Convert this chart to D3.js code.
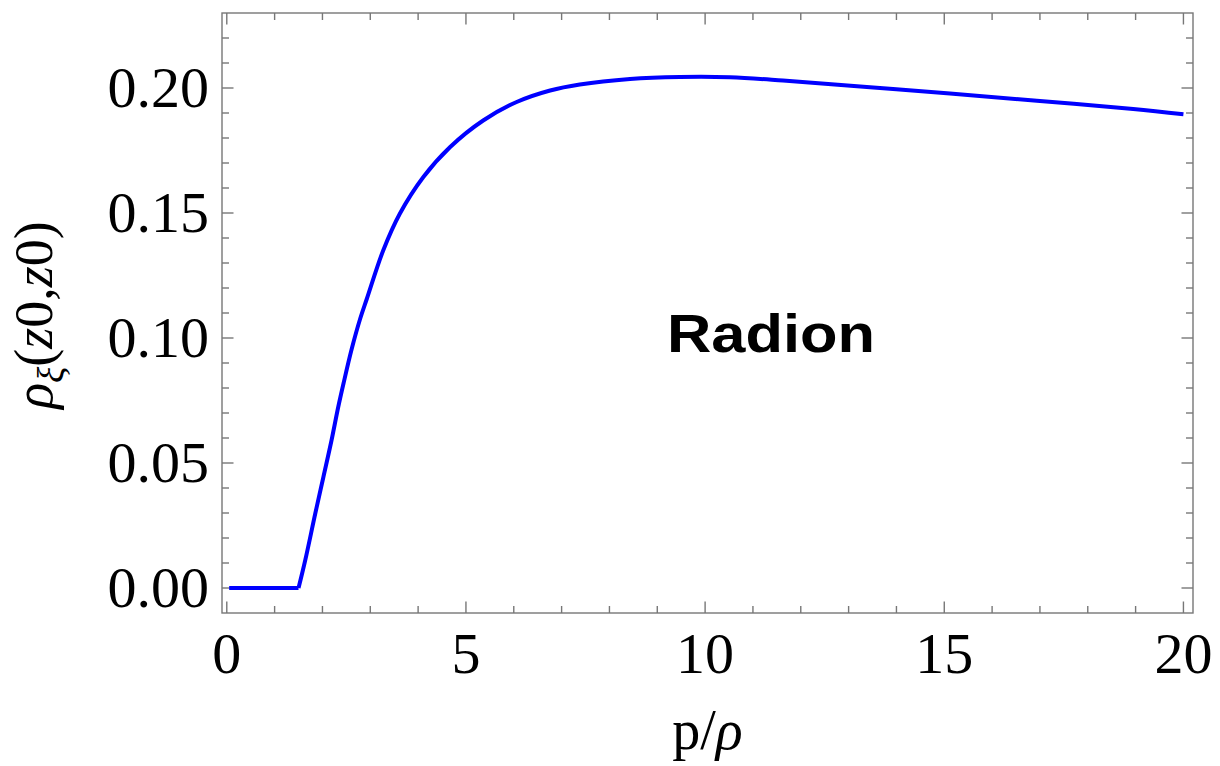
<!DOCTYPE html>
<html>
<head>
<meta charset="utf-8">
<script src="https://cdn.jsdelivr.net/npm/d3@7/dist/d3.min.js"></script>
<style>
  html, body { margin: 0; padding: 0; background: #fff; }
  svg { display: block; }
</style>
</head>
<body>
<svg id="chart" width="1220" height="766"></svg>
<script>
// ---- data ----
const xValues = [0.05, 1.5, 1.64, 1.85, 2.02, 2.19, 2.33, 2.44, 2.61, 2.79, 2.93, 3.27, 3.62, 4.11, 4.67, 5.36, 6.06, 6.76, 7.38, 8.43, 9.47, 10.52, 11.63, 13.38, 15.12, 17.0, 18.95, 20.0];
const yValues = [0, 0, 0.0111, 0.0298, 0.0444, 0.0591, 0.0724, 0.0818, 0.0955, 0.1078, 0.1158, 0.135, 0.1498, 0.1644, 0.1764, 0.187, 0.1944, 0.1990, 0.2014, 0.2036, 0.2044, 0.2043, 0.2030, 0.2004, 0.1978, 0.1948, 0.1916, 0.1895];
const xTickLabels = [0, 5, 10, 15, 20];
const yTickLabels = [0.00, 0.05, 0.10, 0.15, 0.20];
const xMinorTicks = d3.range(0, 21, 1);
const yMinorTicks = d3.range(0, 23, 1).map(d => d / 100);
const annotation = "Radion";

// ---- layout ----
const L = 222, R = 1193, T = 13, B = 613;
const svg = d3.select("#chart");
const x = d3.scaleLinear().domain([-0.1, 20.2]).range([L, R]);
const y = d3.scaleLinear().domain([-0.01, 0.23]).range([B, T]);

const frameColor = "#777777";
const major = 11.5, minor = 7;
const serif = "'Liberation Serif', 'Times New Roman', serif";

// frame
svg.append("rect")
  .attr("x", L).attr("y", T).attr("width", R - L).attr("height", B - T)
  .attr("fill", "none").attr("stroke", frameColor).attr("stroke-width", 1.4);

const isMajorX = d => Math.abs(d % 5) < 1e-9;
const isMajorY = d => Math.abs(Math.round(d * 100) % 5) < 1e-9;

const ticks = svg.append("g").attr("stroke", frameColor).attr("stroke-width", 1.4);
// x ticks bottom & top (inward)
xMinorTicks.forEach(d => {
  const len = isMajorX(d) ? major : minor;
  const px = x(d);
  ticks.append("line").attr("x1", px).attr("x2", px).attr("y1", B).attr("y2", B - len);
  ticks.append("line").attr("x1", px).attr("x2", px).attr("y1", T).attr("y2", T + len);
});
// y ticks left & right (inward)
yMinorTicks.forEach(d => {
  const len = isMajorY(d) ? major : minor;
  const py = y(d);
  ticks.append("line").attr("y1", py).attr("y2", py).attr("x1", L).attr("x2", L + len);
  ticks.append("line").attr("y1", py).attr("y2", py).attr("x1", R).attr("x2", R - len);
});

// tick labels
svg.append("g").selectAll("text").data(xTickLabels).join("text")
  .attr("x", d => x(d)).attr("y", 673)
  .attr("text-anchor", "middle")
  .attr("font-family", serif).attr("font-size", 58).attr("fill", "#000")
  .text(d => d);

svg.append("g").selectAll("text").data(yTickLabels).join("text")
  .attr("x", 209).attr("y", d => y(d) + 19)
  .attr("text-anchor", "end")
  .attr("font-family", serif).attr("font-size", 58).attr("fill", "#000")
  .text(d => d.toFixed(2));

// x axis label
const xl = svg.append("text")
  .attr("x", (L + R) / 2).attr("y", 749)
  .attr("text-anchor", "middle")
  .attr("font-family", serif).attr("font-size", 56).attr("fill", "#000");
xl.append("tspan").text("p/");
xl.append("tspan").attr("font-style", "italic").text("ρ");

// y axis label
const yl = svg.append("text")
  .attr("transform", `translate(52,${(T + B) / 2 + 2}) rotate(-90)`)
  .attr("text-anchor", "middle")
  .attr("font-family", serif).attr("font-size", 54).attr("fill", "#000");
yl.append("tspan").attr("font-style", "italic").text("ρ");
yl.append("tspan").attr("font-style", "italic").attr("font-size", 38).attr("dy", 12).text("ξ");
yl.append("tspan").attr("dy", -12).text("(");
yl.append("tspan").attr("font-style", "italic").text("z");
yl.append("tspan").text("0");
yl.append("tspan").text(",");
yl.append("tspan").attr("font-style", "italic").text("z");
yl.append("tspan").text("0)");

// curve
const pts = xValues.map((d, i) => [d, yValues[i]]);
const flatLine = d3.line().x(d => x(d[0])).y(d => y(d[1])).curve(d3.curveLinear);
const riseLine = d3.line().x(d => x(d[0])).y(d => y(d[1])).curve(d3.curveCatmullRom.alpha(0.5));
svg.append("path").attr("d", flatLine(pts.slice(0, 2)))
  .attr("fill", "none").attr("stroke", "#0000ff").attr("stroke-width", 4);
svg.append("path").attr("d", riseLine(pts.slice(1)))
  .attr("fill", "none").attr("stroke", "#0000ff").attr("stroke-width", 4)
  .attr("stroke-linejoin", "round");

// annotation
svg.append("text")
  .attr("x", 667).attr("y", 352)
  .attr("font-family", "'Liberation Sans', Arial, sans-serif")
  .attr("font-weight", "bold").attr("font-size", 53)
  .attr("textLength", 208).attr("lengthAdjust", "spacingAndGlyphs")
  .attr("fill", "#000")
  .text(annotation);
</script>
</body>
</html>
